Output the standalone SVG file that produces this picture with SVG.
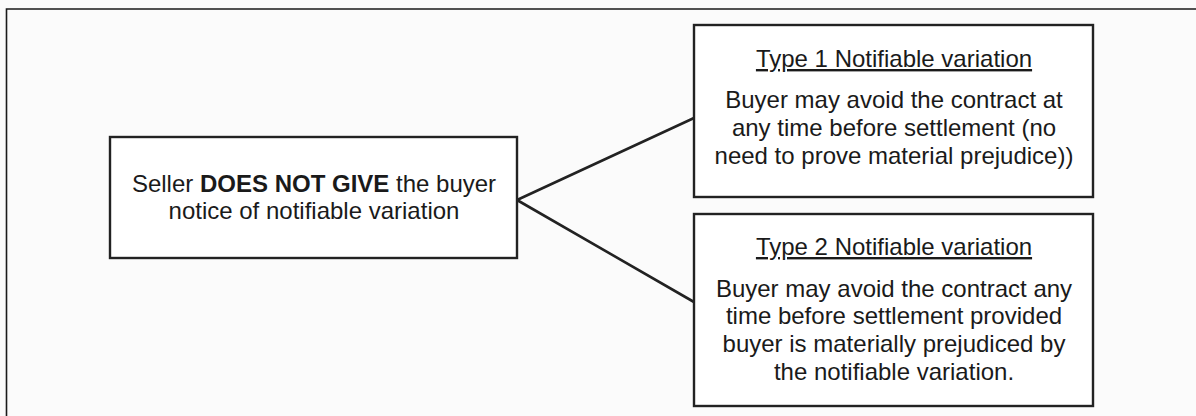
<svg xmlns="http://www.w3.org/2000/svg" width="1196" height="416" viewBox="0 0 1196 416">
  <style>
    .bg { fill: #fbfbfb; }
    .frame { fill: none; stroke: #1a1a1a; stroke-width: 1.6; }
    .box { fill: #ffffff; stroke: #222222; stroke-width: 2.4; }
    .conn { fill: none; stroke: #222222; stroke-width: 2.6; stroke-linecap: round; }
    text { font-family: "Liberation Sans", Arial, sans-serif; font-size: 24px; fill: #1a1a1a; text-anchor: middle; }
    .b { font-weight: bold; }
    .u { text-decoration: underline; }
  </style>
  <rect class="bg" x="0" y="0" width="1196" height="416"/>
  <path class="frame" d="M6.5,420 L6.5,9 L1200,9"/>

  <g id="connectors">
    <line class="conn" x1="517" y1="200" x2="694" y2="118"/>
    <line class="conn" x1="517" y1="200" x2="694" y2="302"/>
  </g>

  <g id="seller">
    <rect class="box" x="110" y="137" width="407" height="121"/>
    <text x="314" y="192">Seller <tspan class="b">DOES NOT GIVE</tspan> the buyer</text>
    <text x="314" y="219">notice of notifiable variation</text>
  </g>

  <g id="type1">
    <rect class="box" x="694" y="25" width="399" height="172"/>
    <text class="u" x="894" y="67">Type 1 Notifiable variation</text>
    <text x="894" y="108">Buyer may avoid the contract at</text>
    <text x="894" y="136">any time before settlement (no</text>
    <text x="894" y="164">need to prove material prejudice))</text>
  </g>

  <g id="type2">
    <rect class="box" x="694" y="214" width="399" height="192"/>
    <text class="u" x="894" y="255">Type 2 Notifiable variation</text>
    <text x="894" y="297">Buyer may avoid the contract any</text>
    <text x="894" y="324">time before settlement provided</text>
    <text x="894" y="352">buyer is materially prejudiced by</text>
    <text x="894" y="380">the notifiable variation.</text>
  </g>
</svg>
